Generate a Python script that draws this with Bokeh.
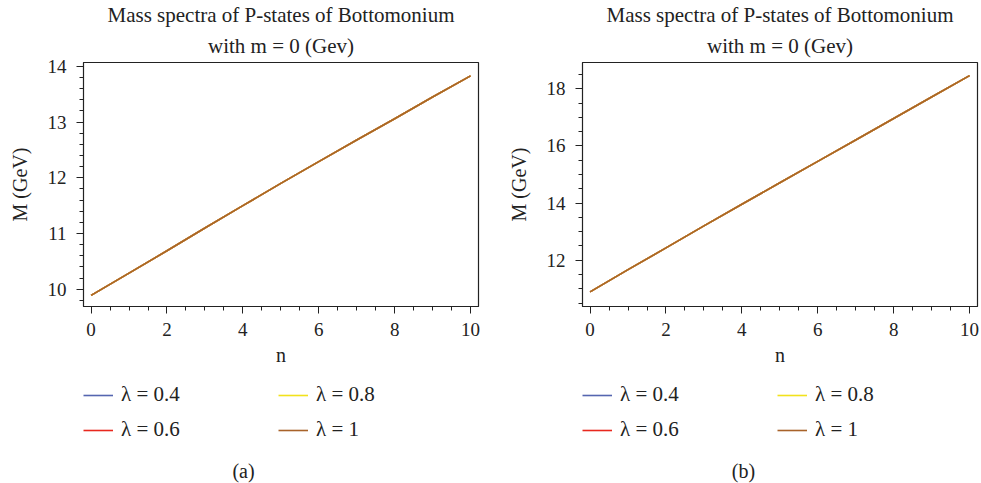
from bokeh.plotting import figure
from bokeh.layouts import row, column
from bokeh.models import Range1d, Legend, LegendItem, Title, FixedTicker, Label
from bokeh.embed import file_html
from bokeh.resources import INLINE

n_values = [0, 1, 2, 3, 4, 5, 6, 7, 8, 9, 10]
mass_a = [9.89, 10.29, 10.69, 11.10, 11.50, 11.90, 12.29, 12.68, 13.06, 13.45, 13.83]
mass_b = [10.89, 11.67, 12.43, 13.20, 13.96, 14.71, 15.46, 16.21, 16.96, 17.71, 18.46]
lambda_labels = ["λ = 0.4", "λ = 0.6", "λ = 0.8", "λ = 1"]
lambda_colors = ["#5566b0", "#e8281e", "#f2e21c", "#a8632a"]
title_line1 = "Mass spectra of P-states of Bottomonium"
title_line2 = "with m = 0 (Gev)"
x_ticks = [0, 2, 4, 6, 8, 10]
y_ticks_a = [10, 11, 12, 13, 14]
y_ticks_b = [12, 14, 16, 18]

FONT = "Liberation Serif"
INK = "#222222"


def make_plot(mass, y_range, y_ticks, y_minor, width, left):
    p = figure(width=width, height=370, frame_width=395, frame_height=244,
               x_range=Range1d(-0.2, 10.21), y_range=Range1d(*y_range),
               output_backend="svg", toolbar_location=None,
               min_border_left=left, min_border_right=width - left - 395,
               min_border_top=62, min_border_bottom=64,
               title=title_line1)
    p.title.align = "center"
    p.title.text_font = FONT
    p.title.text_font_size = "21px"
    p.title.text_font_style = "normal"
    p.title.text_color = INK
    p.title.standoff = 0
    t2 = Title(text=title_line2, align="center", text_font=FONT, text_font_size="21px",
               text_font_style="normal", text_color=INK, standoff=10)
    p.add_layout(t2, "above")
    p.xgrid.visible = False
    p.ygrid.visible = False
    p.outline_line_color = INK
    p.outline_line_width = 1.2
    p.background_fill_color = "white"
    p.border_fill_color = "white"

    for lab, col in zip(lambda_labels, lambda_colors):
        p.line(n_values, mass, line_color=col, line_width=1.6)

    for ax in (p.xaxis[0], p.yaxis[0]):
        ax.axis_line_color = INK
        ax.major_tick_line_color = INK
        ax.minor_tick_line_color = INK
        ax.major_tick_in = 0
        ax.major_tick_out = 7
        ax.minor_tick_in = 0
        ax.minor_tick_out = 4
        ax.major_label_text_font = FONT
        ax.major_label_text_font_size = "19px"
        ax.major_label_text_color = INK
        ax.axis_label_text_font = FONT
        ax.axis_label_text_font_size = "20px"
        ax.axis_label_text_font_style = "normal"
        ax.axis_label_text_color = INK
    p.xaxis[0].ticker = FixedTicker(ticks=x_ticks, minor_ticks=[i * 0.5 for i in range(0, 21)])
    p.yaxis[0].ticker = FixedTicker(ticks=y_ticks, minor_ticks=y_minor)
    p.xaxis[0].axis_label = "n"
    p.yaxis[0].axis_label = "M (GeV)"
    p.xaxis[0].major_label_standoff = 9
    p.xaxis[0].axis_label_standoff = 5
    p.yaxis[0].major_label_standoff = 10
    p.yaxis[0].axis_label_standoff = 14
    return p


def make_key(mass, caption, width, cap_x):
    # legend strip below each chart; its frame is aligned with the chart's frame
    k = figure(width=width, height=113, x_range=Range1d(0, 1), y_range=Range1d(0, 1),
               x_axis_location=None, y_axis_location=None,
               output_backend="svg", toolbar_location=None,
               min_border_left=0, min_border_right=0, min_border_top=0, min_border_bottom=0)
    k.xgrid.visible = False
    k.ygrid.visible = False
    k.outline_line_color = None
    k.background_fill_color = "white"
    k.border_fill_color = "white"
    items = []
    for lab, col in zip(lambda_labels, lambda_colors):
        r = k.line(n_values, mass, line_color=col, line_width=1.6)
        items.append(LegendItem(label=lab, renderers=[r]))
    legend = Legend(items=items, nrows=2, orientation="vertical", location=(0, 41),
                    label_text_font=FONT, label_text_font_size="21px",
                    label_text_color=INK,
                    glyph_width=30, glyph_height=20, label_width=147, label_height=20,
                    label_standoff=8, spacing=10, padding=0, margin=0,
                    border_line_color=None, background_fill_alpha=0)
    k.add_layout(legend, "center")
    cap = Label(x=cap_x, y=13, x_units="screen", y_units="screen", text=caption,
                text_align="center", text_baseline="middle", text_font=FONT,
                text_font_size="20px", text_color=INK)
    k.add_layout(cap)
    return k


minor_a = [9.8 + 0.2 * i for i in range(0, 22)]
minor_b = [10.5 + 0.5 * i for i in range(0, 18)]
pa = make_plot(mass_a, (9.69, 14.07), y_ticks_a, minor_a, 490, 83)
pb = make_plot(mass_b, (10.38, 18.92), y_ticks_b, minor_b, 491, 92)
ka = make_key(mass_a, "(a)", 490, 160)
kb = make_key(mass_b, "(b)", 491, 161)

layout = row(column(pa, ka), column(pb, kb))
open("out.html", "w").write(file_html(layout, INLINE))
